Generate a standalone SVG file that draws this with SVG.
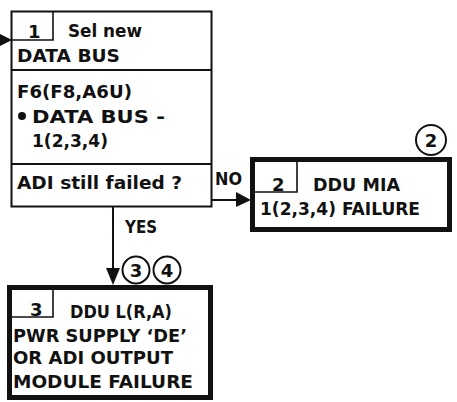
<svg xmlns="http://www.w3.org/2000/svg" width="457" height="402" viewBox="0 0 457 402">
<style>
  text { font-family: "DejaVu Sans", "Liberation Sans", sans-serif; font-weight: bold; font-size: 18px; fill: #111; }
  .thin { fill: #fff; stroke: #111; stroke-width: 2; }
  .thick { fill: #fff; stroke: #111; stroke-width: 5; }
  .ln { fill: none; stroke: #111; stroke-width: 2; }
  .tag { fill: none; stroke: #111; stroke-width: 1.6; }
  .ah { fill: #111; stroke: none; }
  .circ { fill: #fff; stroke: #111; stroke-width: 2; }
</style>
<rect width="457" height="402" fill="#fff"/>
<g id="connectors">
  <line class="ln" x1="0" y1="40" x2="4" y2="40"/>
  <polygon class="ah" points="0,34 12,40 0,46"/>
  <line class="ln" x1="212" y1="200" x2="240" y2="200"/>
  <polygon class="ah" points="236,192 251,200 236,207"/>
  <text x="215" y="185" font-size="16" textLength="27" lengthAdjust="spacingAndGlyphs">NO</text>
  <line class="ln" x1="113" y1="206" x2="113" y2="272"/>
  <polygon class="ah" points="106,268 120,268 113,285"/>
  <text x="125" y="233" font-size="16" textLength="32" lengthAdjust="spacingAndGlyphs">YES</text>
</g>
<g id="node1">
  <rect class="thin" x="11.5" y="11.5" width="200" height="195"/>
  <polyline class="tag" points="11,40 53,40 53,11"/>
  <line class="ln" x1="11" y1="70" x2="212" y2="70"/>
  <line class="ln" x1="11" y1="164" x2="212" y2="164"/>
  <text x="28" y="38">1</text>
  <text x="68" y="37" textLength="74" lengthAdjust="spacingAndGlyphs">Sel new</text>
  <text x="17" y="62" textLength="103" lengthAdjust="spacingAndGlyphs">DATA BUS</text>
  <text x="17" y="98" textLength="115" lengthAdjust="spacingAndGlyphs">F6(F8,A6U)</text>
  <circle cx="22" cy="116" r="4" fill="#111"/>
  <text x="32" y="123" textLength="133" lengthAdjust="spacingAndGlyphs">DATA BUS -</text>
  <text x="32" y="147" textLength="76" lengthAdjust="spacingAndGlyphs">1(2,3,4)</text>
  <text x="17" y="189" textLength="165" lengthAdjust="spacingAndGlyphs">ADI still failed ?</text>
</g>
<g id="node2">
  <rect class="thick" x="252.5" y="159.5" width="197" height="70"/>
  <polyline class="tag" points="255,192 297,192 297,162"/>
  <text x="272" y="191">2</text>
  <text x="313" y="191" textLength="87" lengthAdjust="spacingAndGlyphs">DDU MIA</text>
  <text x="260" y="215" textLength="160" lengthAdjust="spacingAndGlyphs">1(2,3,4) FAILURE</text>
  <circle class="circ" cx="431" cy="140" r="15"/>
  <text x="431" y="147" text-anchor="middle">2</text>
</g>
<g id="node3">
  <rect class="thick" x="9.5" y="287.5" width="201" height="110"/>
  <polyline class="tag" points="12,317 53,317 53,290"/>
  <text x="30" y="316">3</text>
  <text x="70" y="318" textLength="102" lengthAdjust="spacingAndGlyphs">DDU L(R,A)</text>
  <text x="13" y="342" textLength="174" lengthAdjust="spacingAndGlyphs">PWR SUPPLY ‘DE’</text>
  <text x="13" y="364" textLength="160" lengthAdjust="spacingAndGlyphs">OR ADI OUTPUT</text>
  <text x="13" y="388" textLength="180" lengthAdjust="spacingAndGlyphs">MODULE FAILURE</text>
  <circle class="circ" cx="136" cy="270" r="13.5"/>
  <text x="136" y="277" text-anchor="middle">3</text>
  <circle class="circ" cx="167" cy="270" r="13.5"/>
  <text x="167" y="277" text-anchor="middle">4</text>
</g>
</svg>
